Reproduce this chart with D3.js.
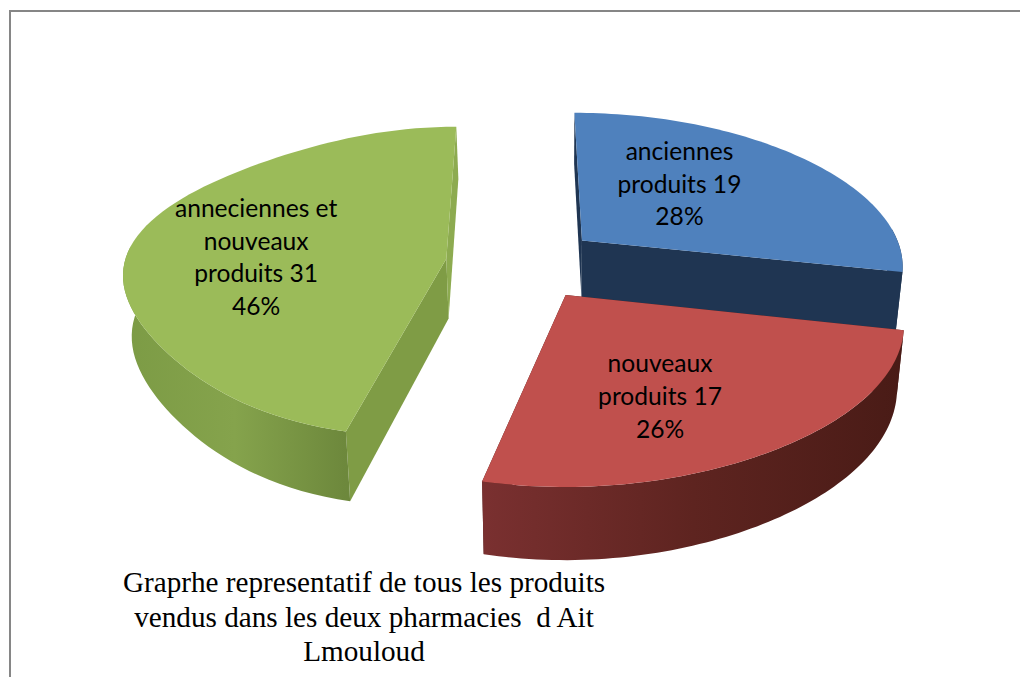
<!DOCTYPE html>
<html>
<head>
<meta charset="utf-8">
<script src="https://cdn.jsdelivr.net/npm/d3@7"></script>
<style>
  html, body { margin: 0; padding: 0; background: #fff; }
  svg { display: block; }
</style>
</head>
<body>
<div id="chart"></div>
<script>
// values
var categories = ["anciennes produits", "nouveaux produits", "anneciennes et nouveaux produits"];
var values = [19, 17, 31];
var percents = ["28%", "26%", "46%"];
var labelLines = [
  ["anciennes", "produits 19", "28%"],
  ["nouveaux", "produits 17", "26%"],
  ["anneciennes et", "nouveaux", "produits 31", "46%"]
];
var titleLines = [
  "Graprhe representatif de tous les produits",
  "vendus dans les deux pharmacies  d Ait",
  "Lmouloud"
];

// styles, one entry per slice
var topColors = ["#4f81bd", "#c0504d", "#9bbb59"];
var startCutColors = ["#1f3552", "#4a1c18", "#7f9c45"];
var endCutColors = ["#1f3552", "#4a1c18", "#8dab50"];
var wallStops = [
  ["#1f3552", "#1f3552", "#1f3552"],
  ["#7a3030", "#5e2420", "#491b16"],
  ["#7c9b45", "#85a34c", "#6d883c"]
];
var labelPolar = [[40, 0.526], [156.6, 0.622], [270.5, 0.592]]; // degrees, radius in the slice
var pinch = [0.01, 0.015, 0.04]; // the rim in the reference is flatter than a true ellipse

var width = 1020, height = 677;
var explode = 0.24, rx = 323, ry = 153, persp = 0.15;
var cx = 523, cy = 263, depth = 60, vanishX = 560, bottomShrink = 0.98;

var svg = d3.select("#chart").append("svg")
  .attr("width", width)
  .attr("height", height);

var defs = svg.append("defs");

// frame, only top and left are inside the window
svg.append("path")
  .attr("d", d3.line()([[width, 11], [10, 11], [10, height]]))
  .attr("fill", "none")
  .attr("stroke", "#868686")
  .attr("stroke-width", 2);

var pie = d3.pie().sort(null).value(function (d) { return d; });
var slices = pie(values);

// plane coords to screen
function project(X, Y, bottom) {
  var s = 1 / (1 - persp * Y);
  var x = cx + rx * X * s;
  var y = cy + ry * Y * s;
  if (bottom) {
    x = vanishX + (x - vanishX) * bottomShrink;
    y = y + depth * s;
  }
  return [x, y];
}

function apex(d) {
  var mid = (d.startAngle + d.endAngle) / 2;
  return [explode * Math.sin(mid), -explode * Math.cos(mid)];
}

function polar(d, angle, r) {
  var a = apex(d);
  return [a[0] + r * Math.sin(angle), a[1] - r * Math.cos(angle)];
}

function arcPoints(d, i) {
  var n = 80;
  return d3.range(n + 1).map(function (k) {
    var t = k / n;
    // green pinches at both shoulders, the narrower slices only at mid rim
    var wave = i === 2 ? Math.sin(2 * Math.PI * t) : Math.sin(Math.PI * t);
    return polar(d, d.startAngle + (d.endAngle - d.startAngle) * t, 1 - pinch[i] * wave * wave);
  });
}

var line = d3.line();

function face(points) {
  return line(points) + "Z";
}

function wall(a, b) {
  return face([project(a[0], a[1]), project(b[0], b[1]), project(b[0], b[1], true), project(a[0], a[1], true)]);
}

function outerWall(points) {
  var top = points.map(function (p) { return project(p[0], p[1]); });
  var bot = points.map(function (p) { return project(p[0], p[1], true); }).reverse();
  return face(top.concat(bot));
}

// far slices first: blue, green, then red in front
var order = [0, 2, 1];

order.forEach(function (i) {
  var d = slices[i];
  var pts = arcPoints(d, i);
  var a = apex(d);
  var g = svg.append("g").attr("class", "slice");

  // only the part of the rim that faces the viewer gets a wall
  var rim = pts.filter(function (p) { return p[1] - a[1] > -0.1; });

  var xs = rim.map(function (p) { return project(p[0], p[1])[0]; });
  var grad = defs.append("linearGradient")
    .attr("id", "wall" + i)
    .attr("gradientUnits", "userSpaceOnUse")
    .attr("x1", d3.min(xs)).attr("x2", d3.max(xs))
    .attr("y1", 0).attr("y2", 0);
  wallStops[i].forEach(function (c, k) {
    grad.append("stop").attr("offset", k / 2).attr("stop-color", c);
  });

  // cuts go first so the rim wall hides the ones that face away
  g.append("path").attr("d", wall(a, pts[0])).attr("fill", startCutColors[i]);
  g.append("path").attr("d", wall(a, pts[pts.length - 1])).attr("fill", endCutColors[i]);
  g.append("path").attr("d", outerWall(rim)).attr("fill", "url(#wall" + i + ")");

  var topFace = [a].concat(pts).map(function (p) { return project(p[0], p[1]); });
  g.append("path").attr("d", face(topFace)).attr("fill", topColors[i]);
});

// labels in the slices
slices.forEach(function (d, i) {
  var p = polar(d, labelPolar[i][0] * Math.PI / 180, labelPolar[i][1]);
  var c = project(p[0], p[1]);
  var lines = labelLines[i];
  var step = 32.6;
  svg.append("g").selectAll("text")
    .data(lines)
    .enter().append("text")
    .attr("x", c[0])
    .attr("y", function (t, k) { return c[1] + (k - (lines.length - 1) / 2) * step + 8; })
    .attr("text-anchor", "middle")
    .attr("font-family", "Lato, 'Open Sans', sans-serif")
    .attr("font-size", 24.6)
    .attr("fill", "#000")
    .text(function (t) { return t; });
});

// caption under the pie
svg.append("g").selectAll("text")
  .data(titleLines)
  .enter().append("text")
  .attr("x", 364)
  .attr("y", function (t, k) { return 592 + k * 34.5; })
  .attr("text-anchor", "middle")
  .attr("font-family", "'Liberation Serif', serif")
  .attr("font-size", 29.2)
  .attr("fill", "#000")
  .style("white-space", "pre")
  .text(function (t) { return t; });
</script>
</body>
</html>
